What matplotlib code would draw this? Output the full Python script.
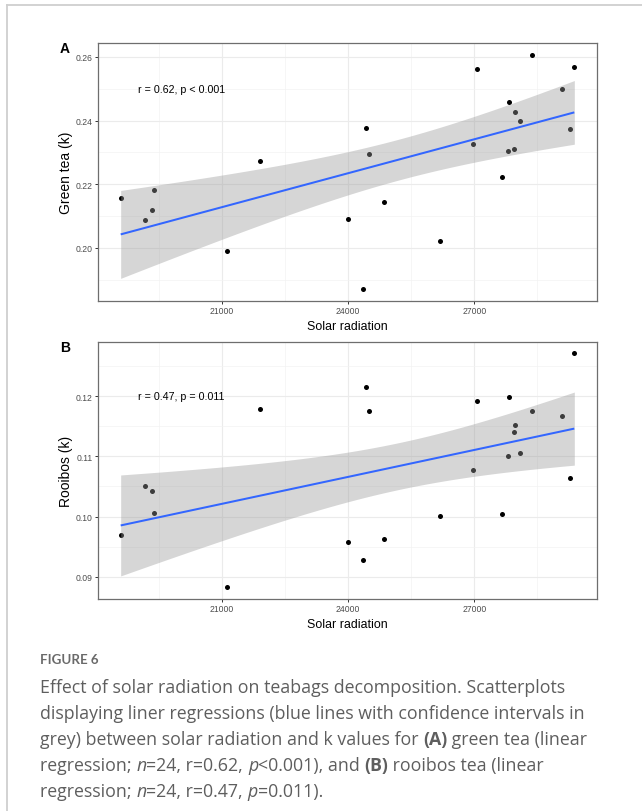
import numpy as np
import matplotlib
matplotlib.use("Agg")
import matplotlib.pyplot as plt
from matplotlib.lines import Line2D

# ---------------- data ----------------
solar_radiation = [18590, 19175, 19325, 19372, 21118, 21915, 24000, 24348,
                   24420, 24507, 24862, 26180, 26962, 27073, 27666, 27808,
                   27825, 27943, 27967, 28085, 28377, 29088, 29277, 29379]
green_tea_k = [0.2157, 0.2087, 0.2119, 0.2183, 0.1991, 0.2274, 0.2092, 0.1870,
               0.2377, 0.2295, 0.2145, 0.2022, 0.2328, 0.2562, 0.2222, 0.2306,
               0.2459, 0.2311, 0.2426, 0.2399, 0.2607, 0.2499, 0.2374, 0.2568]
rooibos_k = [0.09686, 0.1050, 0.1043, 0.10055, 0.08825, 0.1179, 0.0957, 0.09276,
             0.1216, 0.11752, 0.0963, 0.10005, 0.1078, 0.1192, 0.1005, 0.1101,
             0.1199, 0.1140, 0.1152, 0.1106, 0.1175, 0.1167, 0.1064, 0.1271]

x_ticks = [21000, 24000, 27000]
green_ticks = [0.20, 0.22, 0.24, 0.26]
rooibos_ticks = [0.09, 0.10, 0.11, 0.12]
panel_letters = ["A", "B"]
y_titles = ["Green tea (k)", "Rooibos (k)"]
x_title = "Solar radiation"
stat_labels = ["r = 0.62, p < 0.001", "r = 0.47, p = 0.011"]
stat_label_y = [0.25, 0.12]
stat_label_x = 19000

T_975_DF22 = 2.073873  # t quantile for 95% CI with n-2 = 22 df

W, H = 642, 812
fig = plt.figure(figsize=(W / 100, H / 100), dpi=100)
fig.patch.set_facecolor("white")

CHART_FONT = ["Liberation Sans", "DejaVu Sans"]


def fx(px):
    return px / W


def fy(py):
    return 1 - py / H


def smooth(x, y):
    x = np.asarray(x, float)
    y = np.asarray(y, float)
    n = len(x)
    b, a = np.polyfit(x, y, 1)
    xs = np.linspace(x.min(), x.max(), 80)
    fit = a + b * xs
    resid = y - (a + b * x)
    s = np.sqrt(np.sum(resid ** 2) / (n - 2))
    sxx = np.sum((x - x.mean()) ** 2)
    se = s * np.sqrt(1 / n + (xs - x.mean()) ** 2 / sxx)
    return xs, fit, fit - T_975_DF22 * se, fit + T_975_DF22 * se


def expand(lo, hi, f=0.05):
    r = hi - lo
    return lo - f * r, hi + f * r


panels = [
    dict(box=(98, 44, 597, 302), y=green_tea_k, yt=green_ticks),
    dict(box=(98, 342.7, 597, 600), y=rooibos_k, yt=rooibos_ticks),
]

for i, p in enumerate(panels):
    l, t, r, b = p["box"]
    ax = fig.add_axes([fx(l), fy(b), (r - l) / W, (b - t) / H])
    xs, fit, lo, hi = smooth(solar_radiation, p["y"])

    ax.scatter(solar_radiation, p["y"], s=13, color="black", lw=0, zorder=2)
    ax.fill_between(xs, lo, hi, color="#999999", alpha=0.4, lw=0, zorder=3)
    ax.plot(xs, fit, color="#3366FF", lw=1.45, zorder=4, solid_capstyle="butt")

    yt = p["yt"]
    step = yt[1] - yt[0]
    ax.set_xticks(x_ticks)
    ax.set_xticks([x_ticks[0] - 1500] + [v + 1500 for v in x_ticks], minor=True)
    ax.set_yticks(yt)
    ax.set_yticks([yt[0] - step / 2] + [v + step / 2 for v in yt], minor=True)
    ax.set_xticklabels([str(v) for v in x_ticks], family=CHART_FONT)
    ax.set_yticklabels(["%.2f" % v for v in yt], family=CHART_FONT)

    # limits set after ticks so the tick lists do not widen the view
    ax.set_xlim(*expand(min(solar_radiation), max(solar_radiation)))
    ymin = min(min(p["y"]), lo.min())
    ymax = max(max(p["y"]), hi.max())
    ax.set_ylim(*expand(ymin, ymax))

    ax.grid(which="major", color="#EBEBEB", lw=0.85)
    ax.grid(which="minor", color="#F2F2F2", lw=0.45)
    ax.set_axisbelow(True)
    ax.tick_params(which="major", direction="out", length=2.2, width=0.7,
                   color="#333333", labelsize=6.2, labelcolor="#4D4D4D", pad=1.6)
    ax.tick_params(which="minor", length=0)
    for sp in ax.spines.values():
        sp.set_color("#6e6e6e")
        sp.set_linewidth(0.9)

    ax.set_xlabel(x_title, fontsize=8.9, family=CHART_FONT, va="center")
    ax.xaxis.set_label_coords(0.5, -(25.0 / (b - t)))
    ax.set_ylabel(y_titles[i], fontsize=10, family=CHART_FONT, va="center")
    ax.yaxis.set_label_coords(-(32.0 / (r - l)), 0.5)

    ax.text(stat_label_x, stat_label_y[i], stat_labels[i], fontsize=7.7,
            family=CHART_FONT, ha="left", va="center", color="black", zorder=5)

    fig.text(fx(60), fy(t + 5), panel_letters[i], fontsize=10, fontweight="bold",
             family=CHART_FONT, ha="left", va="center")

# page frame lines (top and left)
fig.add_artist(Line2D([fx(7), 1], [fy(6), fy(6)], transform=fig.transFigure,
                      color="#cfcfcf", lw=1.3))
fig.add_artist(Line2D([fx(7), fx(7)], [fy(6), 0], transform=fig.transFigure,
                      color="#cfcfcf", lw=1.3))

# ---------------- caption ----------------
CAP_FONT = ["Open Sans", "DejaVu Sans"]
CAP_COLOR = "#5e5e5e"
CAP_SIZE = 12.8

fig.text(fx(40), fy(660), "FIGURE 6", fontsize=9.6, fontweight="bold",
         family=["Lato", "DejaVu Sans"], color="#6a6a6a", ha="left", va="center")

caption_lines = [
    [("Effect of solar radiation on teabags decomposition. Scatterplots", "n")],
    [("displaying liner regressions (blue lines with confidence intervals in", "n")],
    [("grey) between solar radiation and k values for ", "n"), ("(A)", "b"),
     (" green tea (linear", "n")],
    [("regression; ", "n"), ("n", "i"), ("=24, r=0.62, ", "n"), ("p", "i"),
     ("<0.001), and ", "n"), ("(B)", "b"), (" rooibos tea (linear", "n")],
    [("regression; ", "n"), ("n", "i"), ("=24, r=0.47, ", "n"), ("p", "i"),
     ("=0.011).", "n")],
]
line_y = [688, 714, 740, 766, 792]

renderer = fig.canvas.get_renderer()


def style_kw(st):
    kw = dict(fontsize=CAP_SIZE, family=CAP_FONT, color=CAP_COLOR)
    if st == "b":
        kw["fontweight"] = "bold"
    elif st == "i":
        kw["fontstyle"] = "italic"
    return kw


def run_width(txt, st):
    kw = style_kw(st)
    t1 = fig.text(0, 0, "|" + txt + "|", **kw)
    t2 = fig.text(0, 0, "||", **kw)
    w = t1.get_window_extent(renderer).width - t2.get_window_extent(renderer).width
    t1.remove()
    t2.remove()
    return w


for runs, yy in zip(caption_lines, line_y):
    xpx = 40.0
    for txt, st in runs:
        fig.text(fx(xpx), fy(yy), txt, ha="left", va="center", **style_kw(st))
        xpx += run_width(txt, st)

fig.savefig("out.png", dpi=100, facecolor="white")
